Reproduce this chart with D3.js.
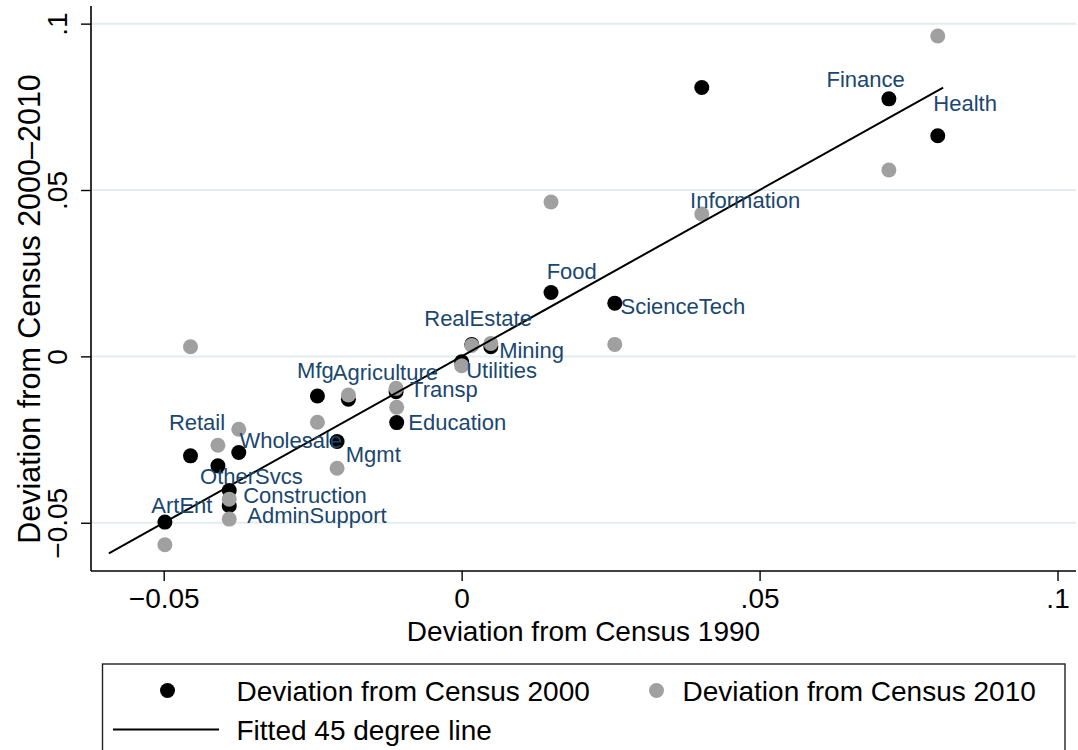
<!DOCTYPE html>
<html>
<head>
<meta charset="utf-8">
<script src="https://cdn.jsdelivr.net/npm/d3@7"></script>
<style>
  html, body { margin: 0; padding: 0; background: #ffffff; }
  svg { display: block; }
  text { font-family: "Liberation Sans", Arial, Helvetica, sans-serif; }
</style>
</head>
<body>
<svg id="chart" width="1078" height="750"></svg>
<script>
// Industry deviations of employment shares, by census year
const industries = ["ArtEnt", "Retail", "OtherSvcs", "Wholesale", "Construction", "AdminSupport",
  "Mfg", "Agriculture", "Mgmt", "Transp", "Education", "Utilities", "RealEstate", "Mining",
  "Food", "ScienceTech", "Information", "Finance", "Health"];

// Deviation from Census 1990 (horizontal axis)
const dev1990 = [-0.0498, -0.0455, -0.0409, -0.0374, -0.0390, -0.0390,
  -0.0242, -0.0190, -0.0209, -0.0110, -0.0109, 0.0000, 0.0017, 0.0049,
  0.0150, 0.0257, 0.0403, 0.0717, 0.0799];

// Deviation from Census 2000 (black markers)
const dev2000 = [-0.0498, -0.0299, -0.0329, -0.0289, -0.0403, -0.0449,
  -0.0119, -0.0129, -0.0256, -0.0106, -0.0199, -0.0016, 0.0036, 0.0029,
  0.0192, 0.0160, 0.0808, 0.0774, 0.0663];

// Deviation from Census 2010 (gray markers)
const dev2010 = [-0.0566, 0.0029, -0.0267, -0.0219, -0.0429, -0.0489,
  -0.0198, -0.0116, -0.0336, -0.0096, -0.0153, -0.0028, 0.0033, 0.0039,
  0.0464, 0.0036, 0.0428, 0.0560, 0.0963];

// 45 degree reference line, drawn over this x range
const fitRange = [-0.0592, 0.0808];

const xTicks = [-0.05, 0, 0.05, 0.1];
const yTicks = [-0.05, 0, 0.05, 0.1];

const legendItems = ["Deviation from Census 2000", "Deviation from Census 2010", "Fitted 45 degree line"];
const xTitle = "Deviation from Census 1990";
const yTitle = "Deviation from Census 2000\u20132010";

// Label placement relative to each industry's 2000 marker: [dx, dy, anchor]
const labelNudge = {
  ArtEnt: [17, -17, "middle"],
  Retail: [6.5, -34, "middle"],
  OtherSvcs: [33.5, 10.7, "middle"],
  Wholesale: [0.6, -12.7, "start"],
  Construction: [14, 4.3, "start"],
  AdminSupport: [18, 9, "start"],
  Mfg: [-2, -26, "middle"],
  Agriculture: [-15.6, -27, "start"],
  Mgmt: [8.7, 12.3, "start"],
  Transp: [14, -2.4, "start"],
  Education: [11.6, -1, "start"],
  Utilities: [4.5, 8.3, "start"],
  RealEstate: [6.3, -26.2, "middle"],
  Mining: [8.3, 3.3, "start"],
  Food: [20.7, -21, "middle"],
  ScienceTech: [5.7, 2.7, "start"],
  Information: [-11.7, 113, "start"],
  Finance: [-23.2, -20, "middle"],
  Health: [-4.4, -32.7, "start"]
};

const plot = { left: 91, top: 6, right: 1076, bottom: 571 };
const svg = d3.select("#chart");

const x = d3.scaleLinear().domain([-0.0622, 0.1031]).range([plot.left, plot.right]);
const y = d3.scaleLinear().domain([-0.0645, 0.1053]).range([plot.bottom, plot.top]);

// Stata-style number labels: no leading zero, true minus sign
const fmt = v => {
  if (v === 0) return "0";
  let s = d3.format("")(+v.toFixed(4));
  s = s.replace(/^(-?)0\./, "$1.");
  return s.replace("-", "\u2212");
};

// Horizontal grid lines
svg.append("g")
  .selectAll("line")
  .data(yTicks)
  .join("line")
  .attr("x1", plot.left).attr("x2", plot.right)
  .attr("y1", d => y(d)).attr("y2", d => y(d))
  .attr("stroke", "#e3edef").attr("stroke-width", 2);

// Axes
const xAxis = d3.axisBottom(x).tickValues(xTicks).tickFormat(fmt).tickSize(10).tickSizeOuter(0).tickPadding(4);
const yAxis = d3.axisLeft(y).tickValues(yTicks).tickFormat(fmt).tickSize(10).tickSizeOuter(0).tickPadding(4);

const gx = svg.append("g").attr("transform", `translate(0,${plot.bottom})`).call(xAxis);
gx.select(".domain").attr("d", `M${plot.left},0H${plot.right}`).attr("stroke", "#000").attr("stroke-width", 1.6);
gx.selectAll(".tick line").attr("stroke", "#000").attr("stroke-width", 1.4);
gx.selectAll(".tick text").attr("font-size", 28).attr("fill", "#000")
  .attr("font-family", "'Liberation Sans', Arial, sans-serif")
  .attr("dy", null).attr("y", 37);

const gy = svg.append("g").attr("transform", `translate(${plot.left},0)`).call(yAxis);
gy.select(".domain").attr("d", `M0,${plot.top}V${plot.bottom}`).attr("stroke", "#000").attr("stroke-width", 1.6);
gy.selectAll(".tick line").attr("stroke", "#000").attr("stroke-width", 1.4);
gy.selectAll(".tick text").attr("font-size", 28).attr("fill", "#000")
  .attr("font-family", "'Liberation Sans', Arial, sans-serif")
  .attr("x", null).attr("dy", null)
  .attr("text-anchor", "middle")
  .attr("transform", "translate(-24,0) rotate(-90)");

// Axis titles
svg.append("text")
  .attr("x", (plot.left + plot.right) / 2).attr("y", 641)
  .attr("text-anchor", "middle").attr("font-size", 28).attr("fill", "#000")
  .text(xTitle);

svg.append("text")
  .attr("transform", "translate(40,309) rotate(-90)")
  .attr("text-anchor", "middle").attr("font-size", 30.5).attr("fill", "#000")
  .text(yTitle);

const rows = industries.map((name, i) => ({ name, x: dev1990[i], y0: dev2000[i], y1: dev2010[i] }));

// 2000 markers
svg.append("g")
  .selectAll("circle")
  .data(rows)
  .join("circle")
  .attr("cx", d => x(d.x)).attr("cy", d => y(d.y0)).attr("r", 7.5)
  .attr("fill", "#000");

// 2010 markers
svg.append("g")
  .selectAll("circle")
  .data(rows)
  .join("circle")
  .attr("cx", d => x(d.x)).attr("cy", d => y(d.y1)).attr("r", 7.5)
  .attr("fill", "#a0a0a0");

// 45 degree line
const line = d3.line().x(d => x(d)).y(d => y(d));
svg.append("path")
  .datum(fitRange)
  .attr("d", line)
  .attr("fill", "none").attr("stroke", "#000").attr("stroke-width", 2);

// Industry labels
const labelSize = 22;
svg.append("g")
  .selectAll("text")
  .data(rows)
  .join("text")
  .attr("x", d => x(d.x) + labelNudge[d.name][0])
  .attr("y", d => y(d.y0) + labelNudge[d.name][1] + labelSize * 0.36)
  .attr("text-anchor", d => labelNudge[d.name][2])
  .attr("font-size", labelSize)
  .attr("fill", "#1a476f")
  .text(d => d.name);

// Legend
const lg = svg.append("g");
lg.append("rect")
  .attr("x", 102.5).attr("y", 664).attr("width", 962.5).attr("height", 100)
  .attr("fill", "#fff").attr("stroke", "#222").attr("stroke-width", 1.4);

const legendRowY = [690.5, 729.5];
lg.append("circle").attr("cx", 167.5).attr("cy", legendRowY[0]).attr("r", 7.5).attr("fill", "#000");
lg.append("circle").attr("cx", 656.5).attr("cy", legendRowY[0]).attr("r", 7.5).attr("fill", "#a0a0a0");
lg.append("line").attr("x1", 113).attr("x2", 219).attr("y1", legendRowY[1]).attr("y2", legendRowY[1])
  .attr("stroke", "#000").attr("stroke-width", 2);

const legendPos = [[236.5, legendRowY[0]], [682.5, legendRowY[0]], [236.5, legendRowY[1]]];
lg.selectAll("text.item")
  .data(legendItems)
  .join("text")
  .attr("class", "item")
  .attr("x", (d, i) => legendPos[i][0])
  .attr("y", (d, i) => legendPos[i][1] + 28 * 0.36)
  .attr("font-size", 28).attr("fill", "#000")
  .text(d => d);
</script>
</body>
</html>
